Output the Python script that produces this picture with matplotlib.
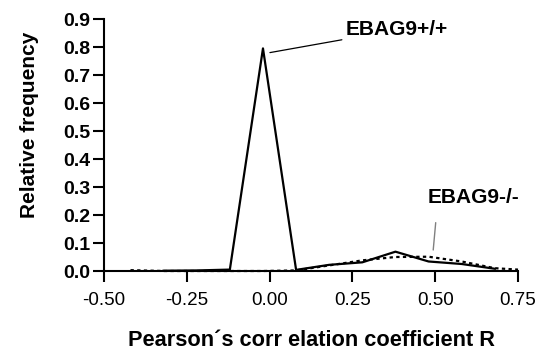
import matplotlib
matplotlib.use("Agg")
import matplotlib.pyplot as plt

plt.rcParams['font.family'] = ['Liberation Sans', 'DejaVu Sans']

# Bin centres of the correlation histogram
r_wt = [-0.32, -0.22, -0.12, -0.02, 0.08, 0.18, 0.28, 0.38, 0.48, 0.58, 0.68]
freq_wt = [0.001, 0.002, 0.005, 0.795, 0.004, 0.022, 0.031, 0.069, 0.034, 0.025, 0.008]

r_ko = [-0.42, -0.32, -0.22, -0.12, -0.02, 0.08, 0.18, 0.28, 0.38, 0.48, 0.58, 0.68, 0.75]
freq_ko = [0.003, 0.0, 0.0, 0.0, 0.0, 0.002, 0.020, 0.038, 0.050, 0.051, 0.034, 0.010, 0.005]

x_ticks = [-0.50, -0.25, 0.00, 0.25, 0.50, 0.75]
y_ticks = [0.0, 0.1, 0.2, 0.3, 0.4, 0.5, 0.6, 0.7, 0.8, 0.9]

fig = plt.figure(figsize=(5.59, 3.54), dpi=100)
ax = fig.add_axes([104 / 559, 1 - 271 / 354, 414 / 559, 252 / 354])

ax.plot(r_ko, freq_ko, color='black', lw=1.6, linestyle=(0, (1.5, 1.5)), clip_on=False)
ax.plot(r_wt, freq_wt, color='black', lw=1.6, clip_on=False)

ax.set_xlim(-0.5, 0.75)
ax.set_ylim(0, 0.9)
ax.set_xticks(x_ticks)
ax.set_xticklabels([f"{v:.2f}" for v in x_ticks], fontsize=13.5)
ax.set_yticks(y_ticks)
ax.set_yticklabels([f"{v:.1f}" for v in y_ticks], fontsize=14, fontweight='bold')

for s in ['top', 'right']:
    ax.spines[s].set_visible(False)
for s in ['left', 'bottom']:
    ax.spines[s].set_linewidth(1.5)
    ax.spines[s].set_zorder(3)
ax.tick_params(axis='both', length=8, width=1.5, direction='out')
ax.tick_params(axis='x', pad=7)
ax.tick_params(axis='y', pad=2)

# Labels for the two genotypes
ax.annotate('EBAG9+/+', xy=(0.001, 0.780), xytext=(0.2307, 0.861),
            fontsize=15, fontweight='bold', va='center', ha='left',
            arrowprops=dict(arrowstyle='-', color='black', lw=0.9, shrinkA=1, shrinkB=0))
ax.annotate('EBAG9-/-', xy=(0.494, 0.075), xytext=(0.478, 0.261),
            fontsize=15, fontweight='bold', va='center', ha='left',
            arrowprops=dict(arrowstyle='-', color='#808080', lw=1.0, shrinkA=9, shrinkB=0,
                            relpos=(0.1, 0.0)))

fig.text(312 / 559, 1 - 340 / 354, 'Pearson´s corr elation coefficient R',
         fontsize=15.7, fontweight='bold', ha='center', va='center')
fig.text(30 / 559, 1 - 125 / 354, 'Relative frequency', rotation=90,
         fontsize=15, fontweight='bold', ha='center', va='center')

fig.savefig('out.png', dpi=100)
